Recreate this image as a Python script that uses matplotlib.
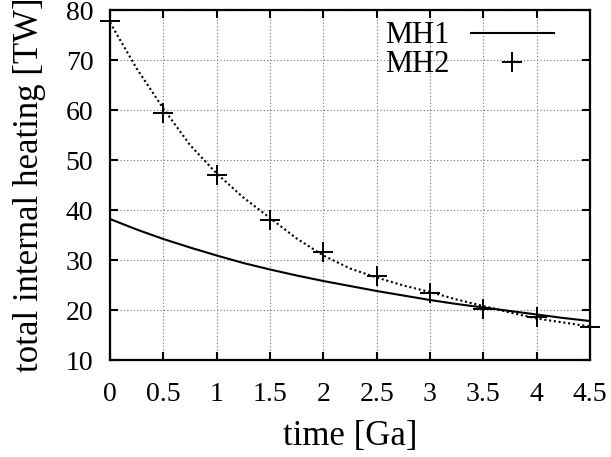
import matplotlib
matplotlib.use("Agg")
import matplotlib.pyplot as plt

# time [Ga]
t_marks = [0, 0.5, 1, 1.5, 2, 2.5, 3, 3.5, 4, 4.5]
mh2_marks = [77.9, 59.5, 47.0, 38.1, 31.7, 26.9, 23.4, 20.3, 18.6, 16.7]

# curves read at quarter steps
t_curve = [0, 0.25, 0.5, 0.75, 1, 1.25, 1.5, 1.75, 2, 2.25,
           2.5, 2.75, 3, 3.25, 3.5, 3.75, 4, 4.25, 4.5]
mh1_curve = [38.2, 36.1, 34.2, 32.5, 30.9, 29.4, 28.1, 26.9, 25.8, 24.8,
             23.8, 22.9, 22.0, 21.2, 20.5, 19.8, 19.1, 18.4, 17.8]
mh2_curve = [77.5, 68.3, 60.3, 53.0, 47.3, 42.5, 38.4, 34.3, 30.9, 28.3,
             26.5, 24.9, 23.6, 22.1, 20.8, 19.5, 18.3, 17.5, 16.7]

xticks = [0, 0.5, 1, 1.5, 2, 2.5, 3, 3.5, 4, 4.5]
xticklabels = ["0", "0.5", "1", "1.5", "2", "2.5", "3", "3.5", "4", "4.5"]
yticks = [10, 20, 30, 40, 50, 60, 70, 80]

plt.rcParams['font.family'] = ['Liberation Serif', 'DejaVu Serif']

fig = plt.figure(figsize=(6.11, 4.57), dpi=100)
ax = fig.add_axes([110 / 611, 1 - 360 / 457, 480 / 611, 350 / 457])

ax.plot(t_curve, mh1_curve, color='black', lw=1.5, label='MH1')
ax.plot(t_curve, mh2_curve, color='black', lw=1.5, linestyle=(0, (1, 1.3)))
ax.plot(t_marks, mh2_marks, linestyle='none', marker='+', color='black',
        markersize=15, markeredgewidth=1.4, label='MH2', clip_on=False)

ax.set_xlim(0, 4.5)
ax.set_ylim(10, 80)
ax.set_xticks(xticks)
ax.set_xticklabels(xticklabels)
ax.set_yticks(yticks)
ax.grid(True, color='0.45', linestyle=(0, (1, 2)), lw=0.8)

ax.tick_params(direction='in', length=6, width=1.5, top=True, right=True,
               labelsize=20)
ax.tick_params(axis='x', pad=16)
ax.tick_params(axis='y', pad=12)
for s in ax.spines.values():
    s.set_linewidth(1.6)

ax.set_xlabel('time [Ga]', fontsize=25, labelpad=9)
ax.set_ylabel('total internal heating [TW]', fontsize=25)
ax.yaxis.set_label_coords(46 / 611, 1 - 185 / 457, transform=fig.transFigure)

leg = ax.legend(loc='upper right', bbox_to_anchor=(572 / 611, 1 - 3 / 457),
                bbox_transform=fig.transFigure, frameon=False, markerfirst=False,
                fontsize=22, handlelength=2.7, handletextpad=0.7,
                labelspacing=0.0, borderpad=0.1)

fig.savefig('out.png', dpi=100)
